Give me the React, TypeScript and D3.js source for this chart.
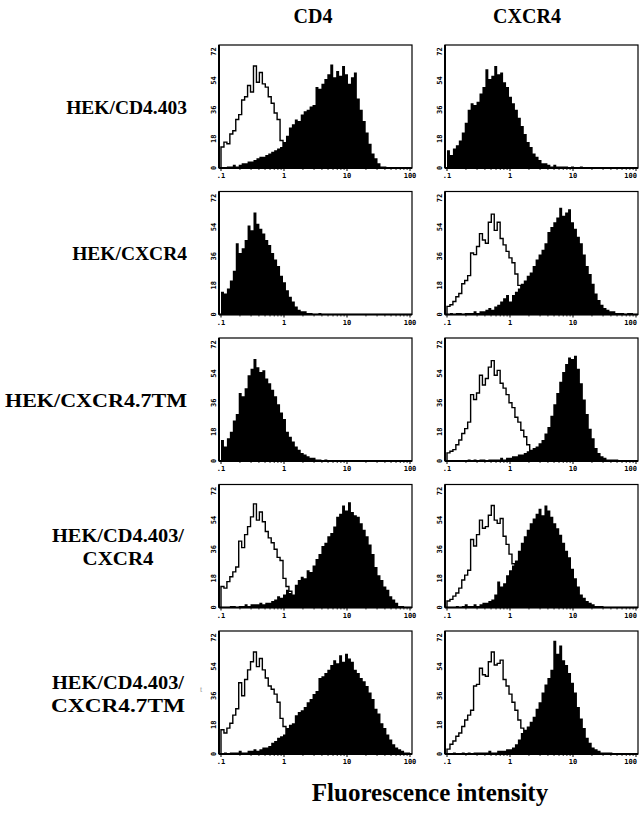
import React, { useEffect, useRef } from "react";
import * as d3 from "d3";

// counts per channel: 64 log channels spanning 0.1 .. 100
const r1L_open = [13,16,15,21,23,30,33,42,44,51,47,63,53,59,52,50,44,40,34,30,17,12,8,5,3,1];
const r1L_fill = [0,0,1,1,2,1,2,3,3,4,4,5,6,7,7,8,9,10,11,12,13,16,20,25,27,30,29,33,35,36,38,39,50,49,52,55,58,64,56,60,57,63,58,52,56,59,43,36,29,22,15,9,6,3,1,1];
const r1R_fill = [11,8,12,14,17,22,28,36,40,39,41,46,50,61,55,57,63,58,59,53,50,44,40,36,31,26,21,16,13,9,7,5,3,3,2,1,2,1,1,1,1,0,1,0,0,1];

const r2L_fill = [14,13,16,21,27,44,38,41,46,55,52,63,56,53,50,46,43,38,34,30,24,20,15,11,8,5,3,2,2,1,1,0,0,1];
const r2R_open = [5,6,8,11,13,19,21,24,38,37,42,50,46,44,57,62,52,57,47,43,39,35,32,25,18,11,6,3,1];
const r2R_fill = [0,1,0,1,1,0,1,1,1,2,1,2,2,3,4,3,5,6,8,10,12,8,12,14,16,19,21,24,26,30,34,37,40,44,51,54,57,60,66,61,63,65,57,53,48,44,37,30,25,19,13,9,6,4,3,2,2,1,1,1,0,1,1,0];

const r3L_fill = [13,9,14,18,25,29,42,40,45,53,57,63,58,55,56,51,48,44,40,35,30,26,18,15,12,9,7,5,4,3,2,2,1,1,0,1];
const r3R_open = [5,6,7,10,13,17,20,24,41,38,42,53,47,51,58,62,53,56,48,45,41,36,33,27,24,19,15,10,6,4,2,1];
const r3R_fill = [0,0,0,0,0,0,0,1,0,1,0,1,1,0,1,1,1,1,2,1,2,2,3,3,4,4,5,6,7,8,9,11,13,17,21,28,35,42,49,55,60,64,63,65,57,48,38,29,20,14,8,5,3,2,1,1,1,1];

const r4L_open = [13,12,16,19,22,25,41,37,45,50,56,64,54,59,53,47,43,40,36,31,29,18,13,10,7,4,2,1];
const r4L_fill = [0,0,0,1,1,0,1,1,2,1,2,2,2,3,2,3,3,4,5,7,6,8,11,9,8,14,17,19,18,23,22,26,30,33,38,40,44,46,50,56,58,63,60,65,59,57,56,52,48,44,39,33,25,20,17,13,11,7,5,3,1,1];
const r4R_open = [4,5,7,9,12,17,20,23,42,38,45,54,49,50,57,63,54,52,55,44,39,33,27,20,13,8,4,2,1];
const r4R_fill = [0,0,0,1,0,1,2,1,1,2,1,2,3,3,4,5,8,16,13,15,20,23,26,29,35,40,44,48,52,55,58,61,57,63,60,56,52,49,45,40,35,31,24,18,13,8,6,4,3,2,1,1,1];

const r5L_open = [15,13,16,19,24,28,44,36,46,52,57,63,54,59,52,47,42,40,37,32,22,17,12,8,5,3,1];
const r5L_fill = [0,1,0,1,1,1,2,1,1,2,2,3,2,3,4,4,5,7,8,10,11,12,16,18,19,24,26,27,29,32,34,37,39,47,48,50,52,55,58,56,61,57,62,59,57,52,50,47,45,42,38,34,28,25,19,16,12,9,6,4,3,2,1,1];
const r5R_open = [3,6,8,11,13,17,21,24,27,42,43,53,49,48,57,63,55,56,58,46,42,37,32,27,21,16,10,6,3,1];
const r5R_fill = [0,0,1,0,0,1,0,1,0,1,1,1,1,1,2,1,1,2,2,2,3,3,4,6,9,13,15,17,20,23,28,32,38,43,47,52,70,62,67,58,55,50,44,38,29,22,16,10,7,4,3,2,1,1,1,1];

const colLabels = ["CD4", "CXCR4"];
const rowLabels = [
  ["HEK/CD4.403"],
  ["HEK/CXCR4"],
  ["HEK/CXCR4.7TM"],
  ["HEK/CD4.403/", "CXCR4"],
  ["HEK/CD4.403/", "CXCR4.7TM"],
];
// printed widths of the row labels in the figure (null = natural width)
const rowLabelWidths = [
  [null],
  [null],
  [182],
  [132, 71],
  [132, 134],
];
const xTicks = [0.1, 1, 10, 100];
const xTickLabels = [".1", "1", "10", "100"];
const yTicks = [0, 18, 36, 54, 72];

const panels = [
  { row: 0, col: 0, open: r1L_open, fill: r1L_fill },
  { row: 0, col: 1, open: null, fill: r1R_fill },
  { row: 1, col: 0, open: null, fill: r2L_fill },
  { row: 1, col: 1, open: r2R_open, fill: r2R_fill },
  { row: 2, col: 0, open: null, fill: r3L_fill },
  { row: 2, col: 1, open: r3R_open, fill: r3R_fill },
  { row: 3, col: 0, open: r4L_open, fill: r4L_fill },
  { row: 3, col: 1, open: r4R_open, fill: r4R_fill },
  { row: 4, col: 0, open: r5L_open, fill: r5L_fill },
  { row: 4, col: 1, open: r5R_open, fill: r5R_fill },
];

const NBINS = 64;
const serif = "'Liberation Serif', 'Times New Roman', serif";
const mono = "'DejaVu Sans Mono', monospace";

const App = () => {
  const svgRef = useRef<SVGSVGElement>(null);

  useEffect(() => {
    const svg = d3.select(svgRef.current);
    svg.selectAll("*").remove();

    const colX = [219, 445];
    const panelW = 193;
    const rowTop = [45, 191.5, 338, 484.5, 631];
    const panelH = 123;

    // column titles
    svg.selectAll(".col-title")
      .data(colLabels)
      .enter()
      .append("text")
      .attr("x", (d, i) => colX[i] + (i === 0 ? 94 : 82))
      .attr("y", 23)
      .attr("text-anchor", "middle")
      .attr("font-family", serif)
      .attr("font-weight", "bold")
      .attr("font-size", 20)
      .text((d) => d);

    // row labels
    rowLabels.forEach((lines, r) => {
      const cy = rowTop[r] + panelH / 2;
      lines.forEach((l, k) => {
        const w = rowLabelWidths[r][k];
        const single = lines.length === 1;
        const t = svg.append("text")
          .attr("x", single ? 187 : 118)
          .attr("y", single ? cy + 7 : cy - 4 + k * 23)
          .attr("text-anchor", single ? "end" : "middle")
          .attr("font-family", serif)
          .attr("font-weight", "bold")
          .attr("font-size", 19.5)
          .text(l);
        if (w) t.attr("textLength", w).attr("lengthAdjust", "spacingAndGlyphs");
      });
    });

    panels.forEach((p, idx) => {
      const left = colX[p.col];
      const top = rowTop[p.row];
      const bottom = top + panelH;

      const x = d3.scaleLog().domain([0.1, 100]).range([left + 2, left + panelW - 2]);
      const y = d3.scaleLinear().domain([0, 76]).range([bottom, top]);
      const edge = (i: number) => x(Math.pow(10, -1 + (i * 3) / NBINS));

      const g = svg.append("g");
      const clipId = "clip" + idx;
      g.append("clipPath").attr("id", clipId)
        .append("rect").attr("x", left).attr("y", top).attr("width", panelW).attr("height", panelH);

      const toPts = (vals: number[]) => {
        const pts: [number, number][] = [[edge(0), 0]];
        vals.forEach((v, i) => pts.push([edge(i), v]));
        pts.push([edge(vals.length), 0]);
        return pts;
      };

      const area = d3.area<[number, number]>()
        .curve(d3.curveStepAfter)
        .x((d) => d[0])
        .y0(y(0))
        .y1((d) => y(d[1]));

      const line = d3.line<[number, number]>()
        .curve(d3.curveStepAfter)
        .x((d) => d[0])
        .y((d) => y(d[1]));

      const hg = g.append("g").attr("clip-path", `url(#${clipId})`);
      if (p.open) {
        hg.append("path")
          .attr("d", line(toPts(p.open)))
          .attr("fill", "none")
          .attr("stroke", "#000")
          .attr("stroke-width", 1.4);
      }
      hg.append("path")
        .attr("d", area(toPts(p.fill)))
        .attr("fill", "#000");

      // frame
      g.append("rect")
        .attr("x", left).attr("y", top)
        .attr("width", panelW).attr("height", panelH)
        .attr("fill", "none").attr("stroke", "#000").attr("stroke-width", 1.2);
      g.append("line")
        .attr("x1", left).attr("x2", left).attr("y1", top).attr("y2", bottom)
        .attr("stroke", "#000").attr("stroke-width", 2);
      g.append("line")
        .attr("x1", left).attr("x2", left + panelW).attr("y1", bottom).attr("y2", bottom)
        .attr("stroke", "#000").attr("stroke-width", 1.8);

      // x minor/major ticks
      const minor: number[] = [];
      [0.1, 1, 10].forEach((b) => { for (let m = 2; m <= 9; m++) minor.push(b * m); });
      g.selectAll(".mt").data(minor).enter().append("line")
        .attr("x1", (d) => x(d)).attr("x2", (d) => x(d))
        .attr("y1", bottom).attr("y2", bottom + 2)
        .attr("stroke", "#000").attr("stroke-width", 0.8);
      g.selectAll(".Mt").data(xTicks).enter().append("line")
        .attr("x1", (d) => x(d)).attr("x2", (d) => x(d))
        .attr("y1", bottom).attr("y2", bottom + 3)
        .attr("stroke", "#000").attr("stroke-width", 1);
      g.selectAll(".xl").data(xTicks).enter().append("text")
        .attr("x", (d) => (p.col === 1 && d === 100 ? 637 : x(d)))
        .attr("y", bottom + 10)
        .attr("text-anchor", (d) => (p.col === 1 && d === 100 ? "end" : "middle"))
        .attr("font-family", mono)
        .attr("font-weight", "bold")
        .attr("font-size", 7)
        .text((d, i) => xTickLabels[i]);

      // y tick labels, rotated
      g.selectAll(".yl").data(yTicks).enter().append("text")
        .attr("transform", (d) => `translate(${left - 3},${y(d)}) rotate(-90)`)
        .attr("text-anchor", "middle")
        .attr("font-family", mono)
        .attr("font-weight", "bold")
        .attr("font-size", 7)
        .text((d) => String(d));
    });

    // scan artefact next to the last row
    svg.append("text")
      .attr("x", 200).attr("y", 692)
      .attr("font-family", serif)
      .attr("font-size", 8)
      .attr("fill", "#999")
      .text("t");

    // axis title
    svg.append("text")
      .attr("x", 430)
      .attr("y", 801)
      .attr("text-anchor", "middle")
      .attr("font-family", serif)
      .attr("font-weight", "bold")
      .attr("font-size", 25)
      .text("Fluorescence intensity");
  }, []);

  return (
    <svg
      ref={svgRef}
      width={639}
      height={816}
      style={{ position: "absolute", left: 0, top: 0, background: "#fff" }}
    ></svg>
  );
};

export default App;
